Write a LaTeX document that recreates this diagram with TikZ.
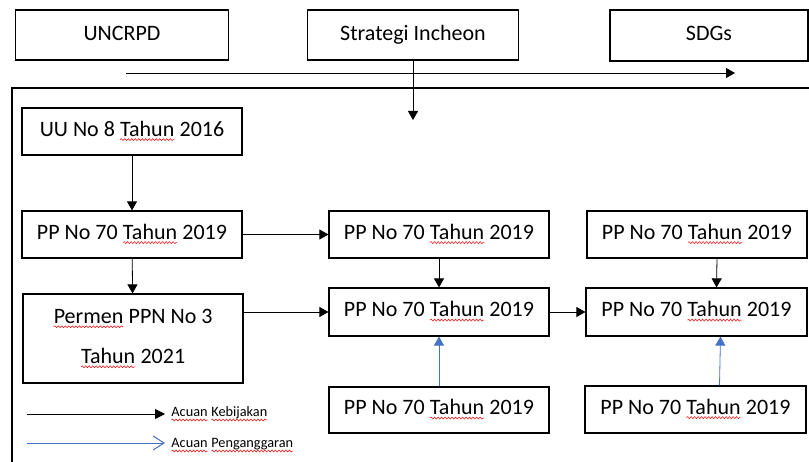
\documentclass[tikz,border=0pt]{standalone}
\usepackage{fontspec}
\setmainfont{Carlito}
\usetikzlibrary{arrows.meta,decorations.pathmorphing}
\definecolor{xanh}{RGB}{68,114,196}
\tikzset{
  hop/.style={draw, line width=1.2pt, inner sep=0pt, minimum width=220pt, minimum height=47pt, font=\fontsize{22}{40}\selectfont},
  motdong/.style={hop, text height=16pt, text depth=6.8pt},
  hoptren/.style={draw, line width=1.2pt, inner sep=0pt, minimum height=50pt, font=\fontsize{22}{26}\selectfont, text height=15pt, text depth=4.8pt},
  chu/.style={inner sep=0pt, font=\fontsize{14.3}{17}\selectfont},
  muiten/.style={line width=0.8pt, -{Triangle[length=9pt,width=10pt]}},
  muitenxanh/.style={muiten, xanh},
  gachdo/.style={red, line width=0.5pt, decorate, decoration={snake, amplitude=1pt, segment length=3.5pt}}
}
%%chữ có gạch đỏ
\newcommand{\loi}[1]{\tikz[baseline=(w.base)]{\node[draw=none, inner sep=0pt, outer sep=0pt, minimum width=0pt, minimum height=0pt, text height=, text depth=] (w) {#1};
  \draw[gachdo] ([yshift=-3.5pt]w.base west) -- ([yshift=-3.5pt]w.base east);}}
\begin{document}
\begin{tikzpicture}[x=1pt, y=-1pt]
    \useasboundingbox (0,0) rectangle (809,462);
    \clip (0,0) rectangle (809,462);
    %%Khung lớn
    \draw[line width=1.3pt] (12,88) rectangle (830,480);
    %%Các hộp trên
    \node[hoptren, minimum width=212.5pt] (uncrpd) at (122,35) {UNCRPD};
    \node[hoptren, minimum width=210.5pt] (incheon) at (413,35) {Strategi Incheon};
    \node[hoptren, minimum width=198pt, minimum height=51pt] (sdgs) at (709,35.5) {SDGs};
    \coordinate (trai) at (126,73);
    \coordinate (phai) at (735,73);
    \coordinate (duoi) at (413,120);
    \draw[muiten] (trai) -- (phai);
    \draw[muiten] (incheon) -- (duoi);
    %%Cột trái
    \node[motdong] (uu) at (132,131.5) {UU No 8 \loi{Tahun} 2016};
    \node[motdong] (pp) at (132,234.5) {PP No 70 \loi{Tahun} 2019};
    \node[hop, minimum height=89pt, align=center] (permen) at (133,338.5) {\loi{Permen} PPN No 3\\\loi{Tahun} 2021};
    %%Cột giữa
    \node[motdong] (m1) at (439,234.5) {PP No 70 \loi{Tahun} 2019};
    \node[motdong, minimum height=48pt] (m2) at (439,312) {PP No 70 \loi{Tahun} 2019};
    \node[motdong, minimum height=46pt] (m3) at (439,410) {PP No 70 \loi{Tahun} 2019};
    %%Cột phải
    \node[motdong] (r1) at (697,234.5) {PP No 70 \loi{Tahun} 2019};
    \node[motdong, minimum width=221pt, minimum height=48pt] (r2) at (696.5,312) {PP No 70 \loi{Tahun} 2019};
    \node[motdong, minimum width=221pt] (r3) at (695.5,409.5) {PP No 70 \loi{Tahun} 2019};
    %%Mũi tên
    \draw[muiten] (uu) -- (pp);
    \draw[muiten] (pp) -- (permen);
    \draw[muiten] (pp) -- (m1);
    \draw[muiten] (permen.east |- m2.west) -- (m2.west);
    \draw[muiten] (m1) -- (m2);
    \draw[muitenxanh] (m3) -- (m2);
    \draw[muiten] (m2) -- (r2);
    \draw[muiten] ([xshift=20pt]r1.south) -- ([xshift=20pt]r2.north);
    \draw[muitenxanh] ([xshift=24pt]r3.north) -- ([xshift=24pt]r2.south);
    %%Chú thích
    \coordinate (a1) at (27,414);
    \coordinate (a2) at (165,414);
    \coordinate (b1) at (27,443);
    \coordinate (b2) at (165,443);
    \draw[line width=0.8pt, -{Triangle[length=10pt,width=10pt]}] (a1) -- (a2);
    \draw[xanh, line width=1pt, -{Straight Barb[length=11pt,width=14pt]}] (b1) -- (b2);
    \node[chu, anchor=base west] (kb) at (171,416.5) {\loi{Acuan} \loi{Kebijakan}};
    \node[chu, anchor=base west] (pg) at (171,447.5) {\loi{Acuan} \loi{Penganggaran}};
\end{tikzpicture}
\end{document}
